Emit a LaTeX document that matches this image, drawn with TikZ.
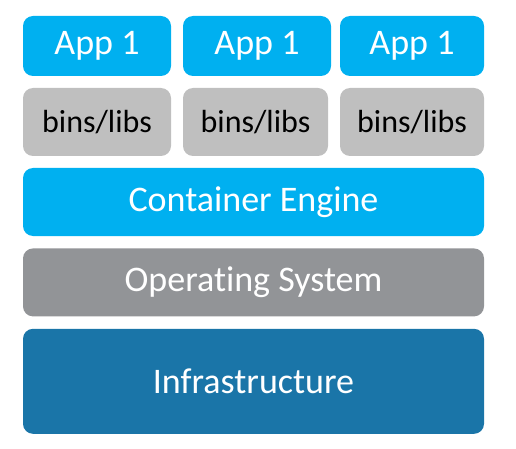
\documentclass[tikz,border=0pt]{standalone}
\usepackage{fontspec}
\setmainfont{Carlito}[Ligatures=NoCommon]
\usepackage{tikz}
\usetikzlibrary{positioning}

\definecolor{appblue}{HTML}{00B0F0}
\definecolor{binsgray}{HTML}{BFBFBF}
\definecolor{osgray}{HTML}{929497}
\definecolor{infrablue}{HTML}{1A75A8}

\tikzset{
  layer/.style={inner sep=0pt, rounded corners=10pt, text=white,
    font=\fontsize{36}{40}\selectfont},
  appbox/.style={layer, fill=appblue, minimum height=60pt},
  binsbox/.style={layer, fill=binsgray, text=black, minimum height=68pt,
    font=\fontsize{32}{38}\selectfont},
  widebox/.style={layer, minimum width=461pt}
}

\begin{document}
\begin{tikzpicture}[x=1pt,y=-1pt]
\useasboundingbox (0,0) rectangle (516,449);
% the three apps
\node[appbox, minimum width=148pt] (app1) at (97,46) {App 1};
\node[appbox, minimum width=148pt] (app2) at (257,46) {App 1};
\node[appbox, minimum width=144pt] (app3) at (412,46) {App 1};
% libraries
\node[binsbox, minimum width=148pt] (bins1) at (97,122) {bins/libs};
\node[binsbox, minimum width=145pt] (bins2) at (255.5,122) {bins/libs};
\node[binsbox, minimum width=144pt] (bins3) at (412,122) {bins/libs};
% stack
\node[widebox, fill=appblue, minimum height=68pt] (engine) at (253.5,202) {Container Engine};
\node[widebox, fill=osgray, minimum height=68pt, below=12pt of engine] (os) {Operating System};
\node[widebox, fill=infrablue, minimum height=105pt, below=12pt of os] (infra) {Infrastructure};
\end{tikzpicture}
\end{document}
